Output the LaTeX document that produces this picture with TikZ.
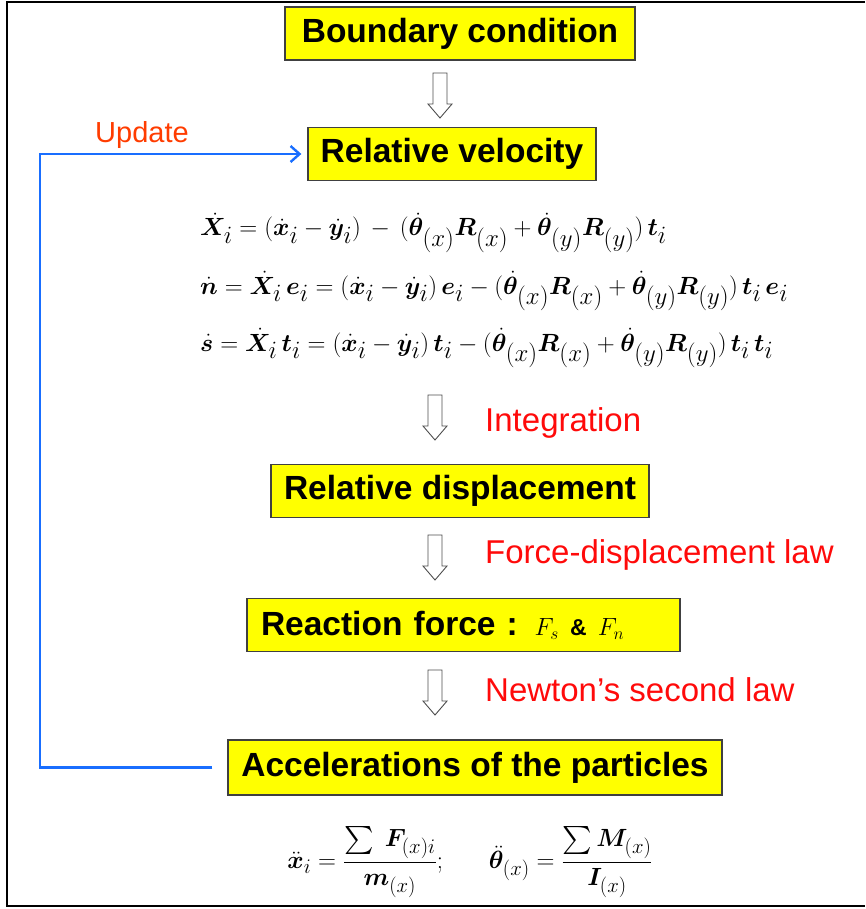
\documentclass[tikz,border=0pt]{standalone}
\usepackage{amsmath,amssymb,bm}
\usepackage[no-math]{fontspec}
\setmainfont{Liberation Sans}
\usetikzlibrary{arrows.meta}
\usetikzlibrary{positioning}
\definecolor{BoxYellow}{RGB}{255,255,0}
\definecolor{LoopBlue}{RGB}{25,110,255}
\definecolor{LabRed}{RGB}{255,10,10}
\definecolor{UpdRed}{RGB}{255,60,0}
\tikzset{
	stepbox/.style={draw=black!75, fill=BoxYellow, line width=1.3pt, inner sep=0pt,
		minimum height=53, font=\fontsize{33.5}{36}\selectfont\bfseries},
	lab/.style={anchor=west, text=LabRed, inner sep=0pt, font=\fontsize{33}{36}\selectfont},
	update/.style={line width=2.4pt, draw=LoopBlue, -{Straight Barb[length=9pt, width=16pt, line width=2.4pt]},
		shorten <=15pt, shorten >=6pt},
	eq/.style={inner sep=0pt, font=\fontsize{34}{36}\selectfont},
	hollow/.pic={\draw[black!70, line width=0.9pt, line join=miter]
		(-7,0) -- (7,0) -- (7,31) -- (12,31) -- (0,45) -- (-12,31) -- (-7,31) -- cycle;}
}
\newcommand{\rotpart}{(\dot{\bm\theta}_{(x)}\bm R_{(x)}+\dot{\bm\theta}_{(y)}\bm R_{(y)})}
\newcommand{\trpart}{(\dot{\bm x}_i-\dot{\bm y}_i)}

\begin{document}
\begin{tikzpicture}[x=1pt, y=-1pt]
		\useasboundingbox (0,0) rectangle (865,909);
		% frame (no right side)
		\draw[line width=2.5pt] (865,2) -- (7,2) -- (7,906) -- (865,906);

		\node[stepbox, minimum width=350] (bc) at (460,33.5) {Boundary condition};
		\node[stepbox, minimum width=288] (vel) at (452,154) {Relative velocity};
		\node[stepbox, minimum width=378] (disp) at (460,491) {Relative displacement};
		\node[stepbox, minimum width=433, text width=405, align=left] (react) at (463.5,625)
		{Reaction force : {\fontsize{23}{24}\selectfont$F_s$ \& $F_n$}};
		\node[stepbox, minimum width=494, minimum height=55] (acc) at (475,767.5) {Accelerations of the particles};

		\pic (a1) at (440,73) {hollow};
		\pic (a2) at (435,395) {hollow};
		\pic (a3) at (435,535) {hollow};
		\pic (a4) at (435,670) {hollow};

		\node[lab] (integ) at (485,423) {Integration};
		\node[lab] (fdlaw) at (485,555) {Force-displacement law};
		\node[lab] (newton) at (485,690) {Newton’s second law};

		% relative velocity equations
		\node[eq, anchor=base west] (eqx) at (200,236)
		{$\dot{\bm X}_i=\trpart\,-\,\rotpart\,\bm t_i$};
		\node[eq, anchor=base west] (eqn) at (200,294)
		{$\dot{\bm n}=\dot{\bm X}_i\,\bm e_i=\trpart\,\bm e_i-\rotpart\,\bm t_i\,\bm e_i$};
		\node[eq, anchor=base west] (eqs) at (200,351)
		{$\dot{\bm s}=\dot{\bm X}_i\,\bm t_i=\trpart\,\bm t_i-\rotpart\,\bm t_i\,\bm t_i$};

		\node[eq, font=\fontsize{28}{30}\selectfont] (accel) at (470,862)
		{$\ddot{\bm x}_i=\dfrac{\sum\;\bm F_{(x)i}}{\bm m_{(x)}};\quad\;\;\ddot{\bm\theta}_{(x)}=\dfrac{\sum\bm M_{(x)}}{\bm I_{(x)}}$};

		% update loop
		\coordinate (loopx) at (40,0);
		\draw[update] (acc.west) -- (acc.west -| loopx) |- (vel.west);
		\node[anchor=west, text=UpdRed, inner sep=0pt, font=\fontsize{29}{31}\selectfont] (upd) at (95,135) {Update};
	\end{tikzpicture}
\end{document}
